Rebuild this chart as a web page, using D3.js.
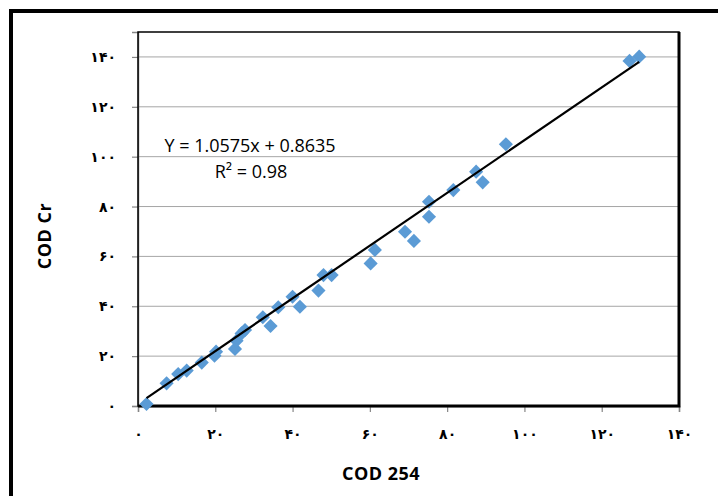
<!DOCTYPE html>
<html>
<head>
<meta charset="utf-8">
<script src="https://cdn.jsdelivr.net/npm/d3@7"></script>
<style>
  body { margin: 0; background: #fff; }
  .tick-label { font-family: "DejaVu Sans", sans-serif; font-weight: bold; font-size: 14px; fill: #000; }
  .axis-title { font-family: "Open Sans", sans-serif; font-weight: bold; font-size: 18px; letter-spacing: 0.5px; fill: #000; }
  .eq { font-family: "Open Sans", sans-serif; font-size: 18px; fill: #000; }
</style>
</head>
<body>
<div class="chart"></div>
<script>
// COD 254 (x) vs COD Cr (y)
var cod254 = [2.2, 7.4, 10.4, 12.6, 16.5, 20.2, 19.8, 25.1, 25.5, 26.8, 27.7, 32.3, 34.3, 36.3, 40.0, 41.9, 46.7, 48.0, 50.1, 60.2, 61.3, 69.1, 71.4, 75.3, 75.3, 81.6, 87.5, 89.2, 95.2, 127.2, 129.7];
var codCr  = [0.8, 9.1, 12.8, 14.2, 17.4, 21.8, 20.2, 22.9, 26.2, 29.1, 30.5, 35.6, 32.1, 39.6, 43.8, 39.8, 46.3, 52.5, 52.5, 57.2, 62.6, 69.9, 66.2, 75.9, 81.9, 86.6, 94.0, 89.7, 105.0, 138.4, 140.1];
var xTicks = [0, 20, 40, 60, 80, 100, 120, 140];
var yTicks = [0, 20, 40, 60, 80, 100, 120, 140];
var slope = 1.0575, intercept = 0.8635;

var svgWidth = 718, svgHeight = 496;
var margin = { top: 32, right: 39, bottom: 90, left: 138 };
var width = svgWidth - margin.left - margin.right;
var height = svgHeight - margin.top - margin.bottom;

// persian digits for tick labels
var fa = "۰۱۲۳۴۵۶۷۸۹";
function toFa(n) { return String(n).replace(/[0-9]/g, d => fa[+d]); }

var svg = d3.select(".chart").append("svg")
  .attr("width", svgWidth)
  .attr("height", svgHeight);

// outer frame (cropped on the right and bottom)
svg.append("rect")
  .attr("x", 11).attr("y", 11)
  .attr("width", 730).attr("height", 510)
  .attr("fill", "none").attr("stroke", "#000").attr("stroke-width", 4);

var chartGroup = svg.append("g")
  .attr("transform", `translate(${margin.left}, ${margin.top})`);

var x = d3.scaleLinear().domain([0, 140]).range([0, width]);
var y = d3.scaleLinear().domain([0, 150]).range([height, 0]);

// gridlines
chartGroup.append("g")
  .selectAll("line")
  .data(yTicks.filter(d => d > 0))
  .enter().append("line")
  .attr("x1", 0).attr("x2", width)
  .attr("y1", d => y(d)).attr("y2", d => y(d))
  .attr("stroke", "#a6a6a6").attr("stroke-width", 1);

// axes
var bottomAxis = d3.axisBottom(x).tickValues(xTicks).tickSize(6).tickPadding(17).tickFormat(toFa);
var leftAxis = d3.axisLeft(y).tickValues(yTicks).tickSize(6).tickPadding(16).tickFormat(toFa);

var gx = chartGroup.append("g")
  .attr("transform", `translate(0, ${height})`)
  .call(bottomAxis);
var gy = chartGroup.append("g").call(leftAxis);

[gx, gy].forEach(function(g) {
  g.select(".domain").attr("stroke", "#868686").attr("stroke-width", 1.5);
  g.selectAll(".tick line").attr("stroke", "#868686").attr("stroke-width", 1.2);
  g.selectAll(".tick text").attr("class", "tick-label").attr("fill", "#000");
});

// plot area border
chartGroup.append("rect")
  .attr("x", 0).attr("y", 0)
  .attr("width", width).attr("height", height)
  .attr("fill", "none").attr("stroke", "#000").attr("stroke-width", 1.5);
chartGroup.append("path")
  .attr("d", `M${width},0 V${height} H0`)
  .attr("fill", "none").attr("stroke", "#000").attr("stroke-width", 3);

// points
var diamond = d3.symbol().type(d3.symbolSquare).size(100);
chartGroup.selectAll(".pt")
  .data(cod254)
  .enter().append("path")
  .attr("class", "pt")
  .attr("d", diamond)
  .attr("transform", (d, i) => `translate(${x(d)}, ${y(codCr[i])}) rotate(45)`)
  .attr("fill", "#5b9bd5");

// trendline
var xmin = d3.min(cod254), xmax = d3.max(cod254);
chartGroup.append("line")
  .attr("x1", x(xmin)).attr("y1", y(slope * xmin + intercept))
  .attr("x2", x(xmax)).attr("y2", y(slope * xmax + intercept))
  .attr("stroke", "#000").attr("stroke-width", 2.2);

// equation
svg.append("text").attr("class", "eq")
  .attr("x", 250).attr("y", 152).attr("text-anchor", "middle")
  .text("Y = 1.0575x + 0.8635");
svg.append("text").attr("class", "eq")
  .attr("x", 251).attr("y", 178).attr("text-anchor", "middle")
  .text("R² = 0.98");

// axis titles
svg.append("text").attr("class", "axis-title")
  .attr("x", 381).attr("y", 480).attr("text-anchor", "middle")
  .text("COD 254");
svg.append("text").attr("class", "axis-title")
  .attr("transform", "translate(51, 236) rotate(-90)")
  .attr("text-anchor", "middle")
  .text("COD Cr");
</script>
</body>
</html>
